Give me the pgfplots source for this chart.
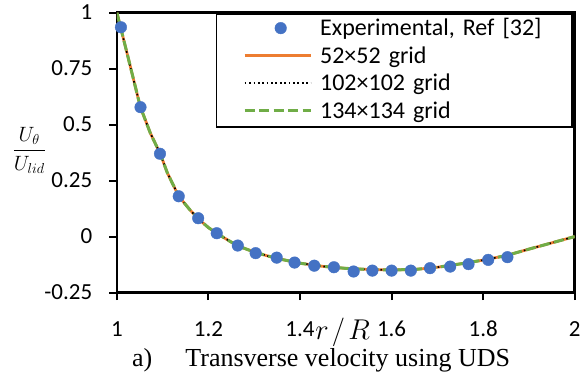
\documentclass[border=0pt]{standalone}
\usepackage{fontspec}
\usepackage{graphicx}
\usepackage{pgfplots}
\usepackage{pgfplotstable}
\pgfplotsset{compat=1.18}
\setmainfont{Carlito}
\newfontfamily\timesfont{Liberation Serif}
\definecolor{expblue}{HTML}{4472C4}
\definecolor{xlorange}{HTML}{ED7D31}
\definecolor{xlgreen}{HTML}{70AD47}

\pgfplotsset{
  lineleg/.style={legend image code/.code={\path (0pt,0pt) (96pt,0pt); \draw[##1] (24pt,1.5pt) -- (90pt,1.5pt);}},
  markleg/.style={legend image code/.code={\path (0pt,0pt) (96pt,0pt); \draw[##1] plot coordinates {(60pt,1.5pt)};}},
}

\pgfplotstableread{
x y
1.0087 0.935
1.0515 0.578
1.094 0.370
1.135 0.180
1.1775 0.082
1.218 0.015
1.264 -0.040
1.303 -0.074
1.349 -0.094
1.388 -0.116
1.431 -0.130
1.474 -0.137
1.517 -0.156
1.558 -0.152
1.600 -0.152
1.642 -0.152
1.684 -0.141
1.728 -0.134
1.768 -0.123
1.811 -0.104
1.853 -0.092
}\expdata

\pgfplotstableread{
x y
1.000 1.000
1.025 0.795
1.051 0.580
1.073 0.462
1.095 0.368
1.110 0.285
1.135 0.180
1.160 0.118
1.180 0.075
1.200 0.040
1.220 0.012
1.250 -0.025
1.275 -0.050
1.300 -0.069
1.330 -0.087
1.360 -0.102
1.400 -0.119
1.450 -0.133
1.500 -0.142
1.550 -0.147
1.600 -0.149
1.650 -0.147
1.700 -0.137
1.750 -0.122
1.800 -0.105
1.850 -0.085
1.900 -0.056
1.950 -0.028
2.000 0.000
}\simdata

\begin{document}
\begin{tikzpicture}
\begin{axis}[name=ax,
  scale only axis, width=458pt, height=280pt,
  xmin=1, xmax=2, ymin=-0.25, ymax=1,
  xtick={1,1.2,1.4,1.6,1.8,2}, xticklabels={1,1.2,1.4,1.6,1.8,2},
  ytick={-0.25,0,0.25,0.5,0.75,1}, yticklabels={-0.25,0,0.25,0.5,0.75,1},
  axis line style={line width=2.6pt, black},
  tick align=outside, xtick pos=bottom, ytick pos=left,
  major tick length=7.5pt,
  tick style={black, line width=2pt},
  xticklabel style={font=\fontsize{23}{27}\selectfont, text height=14.5pt, text depth=0pt, inner sep=0pt, anchor=north, yshift=-22pt},
  yticklabel style={font=\fontsize{23}{27}\selectfont, text height=14.5pt, text depth=0pt, inner sep=0pt, anchor=east, xshift=-17pt},
  xlabel={\scalebox{1.15}{$r\mkern2mu/\mkern2mu R$}},
  every axis x label/.style={at={(axis description cs:0.493,-0.1664)}, anchor=base, font=\fontsize{24.88}{30}\selectfont},
  ylabel={$\displaystyle\frac{U_\theta}{U_{lid}}$},
  every axis y label/.style={at={(axis description cs:-0.1915,0.508)}, anchor=center, font=\fontsize{20}{24}\selectfont},
  legend style={at={(rel axis cs:0.9956,0.9954)}, anchor=north east, draw=black, line width=1.3pt,
    inner xsep=3pt, inner ysep=1.25pt, font=\fontsize{24}{28}\selectfont,
    nodes={inner xsep=2pt, inner ysep=2.25pt, text height=17.5pt, text depth=5.5pt, text width=247pt, align=left},
    row sep=0pt},
  legend cell align=left,
]
\addplot[only marks, mark=*, mark size=5.8pt, mark options={fill=expblue, draw=expblue, line width=0.4pt}, markleg]
  table[x=x,y=y] {\expdata};
\addlegendentry{Experimental, Ref [32]}
\addplot[xlorange, line width=2.75pt, mark=none, lineleg]
  table[x=x,y=y] {\simdata};
\addlegendentry{52×52 grid}
\addplot[black, line width=1.7pt, dash pattern=on 1.7pt off 2.7pt, mark=none, lineleg]
  table[x=x,y=y] {\simdata};
\addlegendentry{102×102 grid}
\addplot[xlgreen, line width=3pt, dash pattern=on 10pt off 4.5pt, mark=none, lineleg]
  table[x=x,y=y] {\simdata};
\addlegendentry{134×134 grid}
\end{axis}
\node[anchor=base west, inner sep=0pt, font=\timesfont\fontsize{26}{30}\selectfont] at ([shift={(15pt,-74pt)}]ax.south west) {a)};
\node[anchor=base west, inner sep=0pt, font=\timesfont\fontsize{26}{30}\selectfont] at ([shift={(68.3pt,-74pt)}]ax.south west) {Transverse velocity using UDS};
\pgfresetboundingbox
\path[use as bounding box] ([shift={(-117pt,-83.3pt)}]ax.south west) rectangle ([shift={(466.3pt,292.7pt)}]ax.south west);
\end{tikzpicture}
\end{document}
